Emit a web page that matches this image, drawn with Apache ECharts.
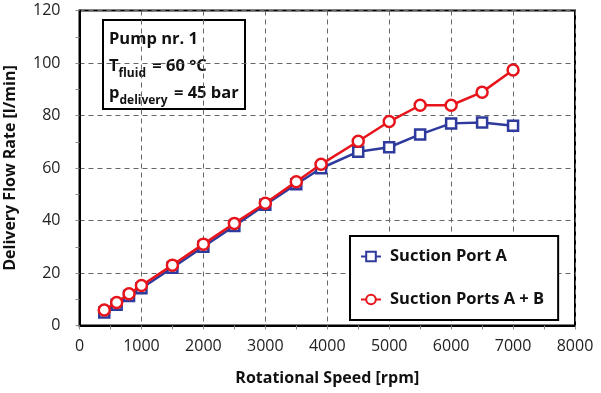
<!DOCTYPE html>
<html><head><meta charset="utf-8">
<script src="https://cdn.jsdelivr.net/npm/echarts@6/dist/echarts.min.js"></script>
<style>html,body{margin:0;padding:0;background:#fff}#c{width:601px;height:393px}</style>
</head><body><div id="c"></div>
<script>
const speedRpm = [400,600,800,1000,1500,2000,2500,3000,3500,3900,4500,5000,5500,6000,6500,7000];
const portA =    [5.0,7.9,11.2,14.2,22.0,30.0,37.9,46.0,53.8,59.9,66.2,67.9,72.8,77.0,77.3,76.1];
const portsAB =  [5.9,8.8,12.1,15.2,23.0,31.0,38.9,46.6,54.8,61.4,70.2,77.7,83.9,83.9,88.9,97.3];
const seriesNames = ['Suction Port A','Suction Ports A + B'];
const xTitle = 'Rotational Speed [rpm]';
const yTitle = 'Delivery Flow Rate [l/min]';

const FONT = 'Open Sans';
const chart = echarts.init(document.getElementById('c'), null, {renderer:'canvas'});
const pair = (xs, ys) => xs.map((x,i)=>[x, ys[i]]);
chart.setOption({
  animation:false,
  backgroundColor:'#fff',
  textStyle:{fontFamily:FONT},
  grid:{left:79.5,right:26,top:10.5,bottom:67.5,outerBoundsMode:'none',containLabel:false,
    show:true,borderColor:'#000',borderWidth:2,backgroundColor:'transparent'},
  xAxis:{type:'value',min:0,max:8000,interval:1000,
    name:xTitle,nameLocation:'middle',nameGap:45,
    nameTextStyle:{fontFamily:FONT,fontSize:16,fontWeight:'bold',color:'#111'},
    axisLine:{show:true,lineStyle:{color:'#000',width:2}},
    axisTick:{show:true,length:4,lineStyle:{color:'#888'}},
    minorTick:{show:true,splitNumber:2,length:4,lineStyle:{color:'#888'}},
    axisLabel:{fontFamily:FONT,fontSize:16,color:'#222',margin:13,formatter:v=>String(v)},
    splitLine:{show:true,lineStyle:{color:'#666',type:[5,4],width:1}}
  },
  yAxis:{type:'value',min:0,max:120,interval:20,
    name:yTitle,nameLocation:'middle',nameGap:61,
    nameTextStyle:{fontFamily:FONT,fontSize:16,fontWeight:'bold',color:'#111'},
    axisLine:{show:true,lineStyle:{color:'#000',width:2}},
    axisTick:{show:true,length:4,lineStyle:{color:'#888'}},
    minorTick:{show:true,splitNumber:2,length:4,lineStyle:{color:'#888'}},
    axisLabel:{fontFamily:FONT,fontSize:16,color:'#222',margin:19},
    splitLine:{show:true,lineStyle:{color:'#666',type:[5,4],width:1}}
  },
  legend:{orient:'vertical',left:350,top:236,
    padding:[12,14,12,10],itemGap:26,itemWidth:20,itemHeight:12,
    borderColor:'#000',borderWidth:2,backgroundColor:'#fff',
    textStyle:{fontFamily:FONT,fontSize:16.5,fontWeight:'bold',color:'#111',padding:[0,0,0,4]},
    data:seriesNames},
  graphic:[{type:'group',left:102,top:19,children:[
    {type:'rect',shape:{x:0,y:0,width:142,height:89},style:{fill:'#fff',stroke:'#000',lineWidth:2}},
    {type:'text',x:6,y:6,style:{
      text:'Pump nr. 1\nT{s|fluid} = 60 °C\np{s|delivery} = 45 bar',
      fontFamily:FONT,fontSize:16.5,fontWeight:'bold',fill:'#111',lineHeight:27,
      rich:{s:{fontFamily:FONT,fontSize:12,fontWeight:'bold',fill:'#111',lineHeight:27,verticalAlign:'bottom',padding:[9,2,0,0]}}
    }}
  ]}],
  series:[
    {name:seriesNames[0],type:'line',data:pair(speedRpm,portA),
      color:'#2E3A9C',lineStyle:{width:2.5,color:'#2E3A9C'},
      symbol:'rect',symbolSize:10,showAllSymbol:true,
      itemStyle:{color:'#fff',borderColor:'#2E3A9C',borderWidth:2.5},z:2},
    {name:seriesNames[1],type:'line',data:pair(speedRpm,portsAB),
      color:'#E8141B',lineStyle:{width:2.5,color:'#E8141B'},
      symbol:'circle',symbolSize:11,showAllSymbol:true,
      itemStyle:{color:'#fff',borderColor:'#E8141B',borderWidth:2.5},z:3}
  ]
});
</script></body></html>
